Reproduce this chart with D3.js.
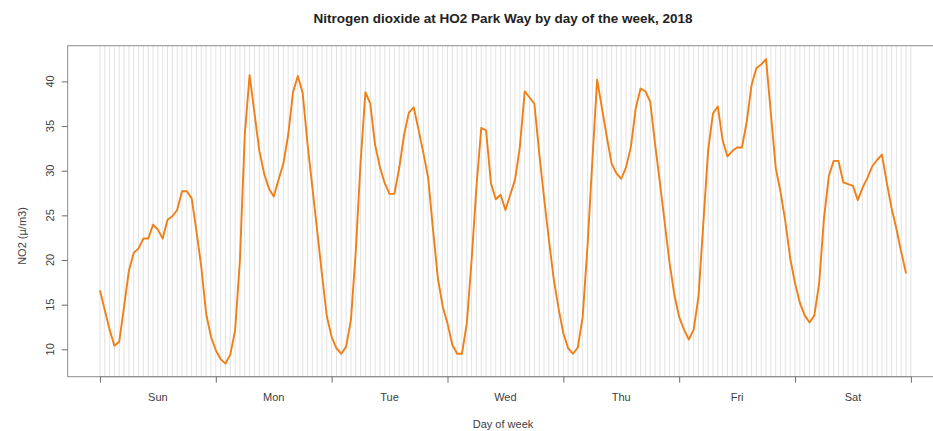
<!DOCTYPE html>
<html>
<head>
<meta charset="utf-8">
<script src="https://cdn.jsdelivr.net/npm/d3@7"></script>
<style>
  html, body { margin: 0; padding: 0; background: #fff; }
  svg { display: block; }
  text { font-family: "Liberation Sans", Arial, sans-serif; }
</style>
</head>
<body>
<div id="chart"></div>
<script>
// ---- data ----
const title = "Nitrogen dioxide at HO2 Park Way by day of the week, 2018";
const xTitle = "Day of week";
const yTitle = "NO2 (\u00b5/m3)";
const dayLabels = ["Sun", "Mon", "Tue", "Wed", "Thu", "Fri", "Sat"];
const yTicks = [10, 15, 20, 25, 30, 35, 40];
// hourly NO2 means, hour 0 = Sunday 00:00 ... hour 167 = Saturday 23:00
const sun = [16.6, 14.4, 12.2, 10.4, 10.85, 14.8, 18.8, 20.8, 21.3, 22.4, 22.4, 23.95, 23.4, 22.4, 24.5, 24.9, 25.6, 27.7, 27.7, 26.9, 23.2, 19.2, 14.0, 11.4];
const mon = [9.9, 8.9, 8.4, 9.4, 12.1, 20.0, 34.0, 40.7, 36.5, 32.3, 29.7, 28.0, 27.1, 29.0, 30.8, 34.0, 38.8, 40.6, 38.7, 33.0, 28.2, 23.3, 18.4, 13.7];
const tue = [11.4, 10.1, 9.5, 10.3, 13.3, 21.0, 31.0, 38.8, 37.5, 32.9, 30.4, 28.6, 27.4, 27.4, 30.3, 34.0, 36.5, 37.1, 34.6, 32.0, 29.2, 23.4, 18.0, 14.8];
const wed = [12.9, 10.5, 9.5, 9.5, 12.9, 20.0, 28.2, 34.8, 34.5, 28.6, 26.8, 27.3, 25.6, 27.3, 29.0, 32.7, 38.9, 38.2, 37.5, 32.0, 27.0, 22.3, 17.9, 14.6];
const thu = [11.8, 10.1, 9.5, 10.2, 13.6, 21.5, 31.0, 40.2, 37.0, 33.8, 30.8, 29.7, 29.1, 30.4, 32.7, 37.0, 39.2, 38.9, 37.7, 33.0, 28.7, 24.2, 19.7, 16.1];
const fri = [13.6, 12.2, 11.1, 12.2, 15.9, 24.1, 32.3, 36.4, 37.2, 33.4, 31.6, 32.2, 32.6, 32.6, 35.5, 39.6, 41.5, 41.9, 42.5, 36.4, 30.3, 27.6, 24.3, 20.2];
const sat = [17.4, 15.2, 13.8, 13.0, 13.8, 17.4, 24.7, 29.4, 31.1, 31.1, 28.7, 28.5, 28.3, 26.7, 28.1, 29.2, 30.5, 31.2, 31.8, 28.7, 25.8, 23.5, 20.9, 18.5];

const values = [].concat(sun, mon, tue, wed, thu, fri, sat);
const series = values.map((v, i) => ({ hour: i, value: v }));

// ---- layout ----
const W = 933, H = 431;
const plotLeft = 67.7, plotRight = 938.3, plotTop = 45.7, plotBottom = 376.7;

const x = d3.scaleLinear().domain([-6.68, 173.68]).range([plotLeft, plotRight]);
const y = d3.scaleLinear().domain([6.93, 44.0]).range([plotBottom, plotTop]);

const svg = d3.select("#chart").append("svg")
  .attr("width", W).attr("height", H)
  .attr("viewBox", `0 0 ${W} ${H}`);

// hourly vertical grid
const gridHours = d3.range(0, 169);
svg.append("g").selectAll("line").data(gridHours).join("line")
  .attr("x1", d => x(d)).attr("x2", d => x(d))
  .attr("y1", plotTop).attr("y2", plotBottom)
  .attr("stroke", "#e2e2e2").attr("stroke-width", 1);

// line
const line = d3.line().x(d => x(d.hour)).y(d => y(d.value));
svg.append("path").datum(series)
  .attr("d", line)
  .attr("fill", "none")
  .attr("stroke", "#f07f17")
  .attr("stroke-width", 1.9)
  .attr("stroke-linejoin", "round");

// box
svg.append("rect")
  .attr("x", plotLeft).attr("y", plotTop)
  .attr("width", plotRight - plotLeft).attr("height", plotBottom - plotTop)
  .attr("fill", "none").attr("stroke", "#8c8c8c").attr("stroke-width", 1);

// x axis: ticks at day boundaries, labels at midday
const dayTicks = d3.range(0, 169, 24);
const xAxis = d3.axisBottom(x).tickValues(dayTicks).tickFormat("").tickSize(6).tickSizeOuter(0);
const gx = svg.append("g").attr("transform", `translate(0,${plotBottom})`).call(xAxis);
gx.select(".domain").attr("stroke", "#8c8c8c")
  .attr("d", `M${x(0)},0H${x(168)}`);
gx.selectAll(".tick line").attr("stroke", "#6e6e6e");

svg.append("g").selectAll("text").data(dayLabels).join("text")
  .attr("x", (d, i) => x(i * 24 + 12))
  .attr("y", 401)
  .attr("text-anchor", "middle")
  .attr("font-size", 11)
  .attr("fill", "#404040")
  .text(d => d);

// y axis
const yAxis = d3.axisLeft(y).tickValues(yTicks).tickFormat("").tickSize(6).tickSizeOuter(0);
const gy = svg.append("g").attr("transform", `translate(${plotLeft},0)`).call(yAxis);
gy.select(".domain").remove();
gy.selectAll(".tick line").attr("stroke", "#6e6e6e");

svg.append("g").selectAll("text").data(yTicks).join("text")
  .attr("transform", d => `translate(54,${y(d)}) rotate(-90)`)
  .attr("text-anchor", "middle")
  .attr("font-size", 11)
  .attr("fill", "#404040")
  .text(d => d);

// titles
svg.append("text")
  .attr("x", 503).attr("y", 23)
  .attr("text-anchor", "middle")
  .attr("font-size", 13.5)
  .attr("font-weight", "bold")
  .attr("fill", "#222")
  .text(title);

svg.append("text")
  .attr("x", 503).attr("y", 428)
  .attr("text-anchor", "middle")
  .attr("font-size", 11)
  .attr("fill", "#404040")
  .text(xTitle);

svg.append("text")
  .attr("transform", `translate(26,236) rotate(-90)`)
  .attr("text-anchor", "middle")
  .attr("font-size", 11)
  .attr("fill", "#404040")
  .text(yTitle);
</script>
</body>
</html>
